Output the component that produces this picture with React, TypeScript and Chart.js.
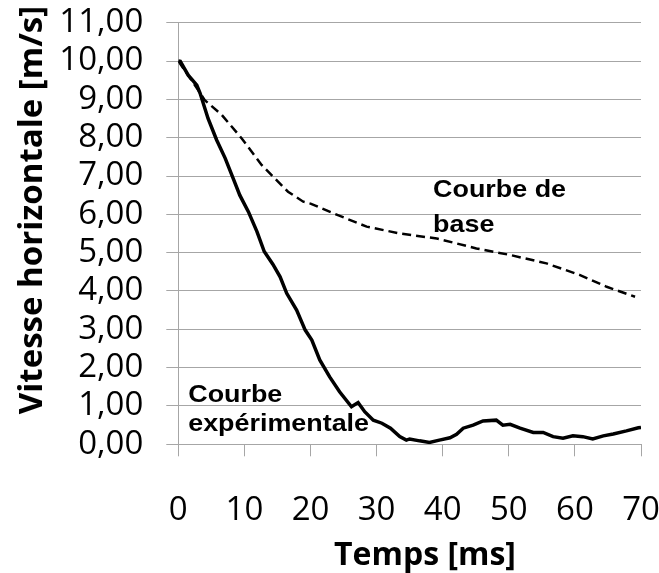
import React, { useEffect, useRef } from 'react';
import { Chart, registerables } from 'chart.js';

Chart.register(...registerables);

// Courbe de base (dashed)
const baseTime = [0, 2, 3, 4, 6.6, 9.6, 12.6, 16.6, 18.9, 20, 23.4, 28.5, 33.5, 39.1, 45.1, 50.2, 55.7, 60.7, 64.8, 69.1];
const baseSpeed = [10, 9.5, 9.24, 8.98, 8.59, 7.98, 7.29, 6.59, 6.33, 6.28, 6.03, 5.68, 5.5, 5.37, 5.11, 4.94, 4.72, 4.42, 4.11, 3.85];

// Courbe expérimentale (solid)
const expTime = [0, 0.3, 1.5, 2.8, 3.3, 4.5, 5.8, 7.1, 8.3, 9.3, 10.6, 11.9, 13.0, 14.3, 15.4, 16.4, 17.9, 19.2, 20.2, 21.4, 22.9, 24.4, 26.2, 27.2, 28.2, 29.5, 30.8, 32.1, 33.5, 34.5, 35.0, 36.5, 38.0, 39.5, 41.1, 42.1, 43.1, 44.6, 46.1, 48.1, 49.1, 50.2, 51.7, 53.7, 55.2, 56.7, 58.2, 59.7, 61.2, 62.7, 64.3, 65.8, 67.8, 69.6, 70];
const expSpeed = [10, 9.99, 9.63, 9.37, 9.16, 8.5, 7.94, 7.46, 6.94, 6.5, 6.07, 5.55, 5.03, 4.7, 4.37, 3.94, 3.5, 2.98, 2.72, 2.2, 1.76, 1.37, 0.98, 1.09, 0.85, 0.63, 0.55, 0.42, 0.2, 0.11, 0.14, 0.09, 0.05, 0.11, 0.17, 0.26, 0.42, 0.5, 0.61, 0.63, 0.5, 0.52, 0.42, 0.31, 0.31, 0.2, 0.16, 0.22, 0.2, 0.14, 0.22, 0.27, 0.35, 0.43, 0.44];

const xTitle = 'Temps [ms]';
const yTitle = 'Vitesse horizontale [m/s]';
const annotationTexts = ['Courbe de', 'base', 'Courbe', 'expérimentale'];
const annotationX = [38.55, 38.55, 1.5, 1.5];
const annotationY = [6.44, 5.55, 1.11, 0.35];

const textPlugin = {
  id: 'textPlugin',
  afterDraw(chart: any) {
    const { ctx } = chart;
    const xs = chart.scales.x;
    const ys = chart.scales.y;
    ctx.save();
    ctx.fillStyle = '#000';
    ctx.textBaseline = 'alphabetic';
    ctx.textAlign = 'left';
    ctx.font = 'bold 24px "Liberation Sans", Arial, sans-serif';
    annotationTexts.forEach((t, i) => {
      ctx.save();
      ctx.translate(xs.getPixelForValue(annotationX[i]), ys.getPixelForValue(annotationY[i]));
      ctx.scale(1.12, 1);
      ctx.fillText(t, 0, 0);
      ctx.restore();
    });
    ctx.textAlign = 'center';
    ctx.font = 'bold 33px "Open Sans", sans-serif';
    ctx.save();
    ctx.translate(41.5, 210);
    ctx.rotate(-Math.PI / 2);
    ctx.fillText(yTitle, 0, 0);
    ctx.restore();
    ctx.font = 'bold 32px "Open Sans", sans-serif';
    ctx.fillText(xTitle, 425, 565);
    ctx.restore();
  },
};

export default function App() {
  const ref = useRef<HTMLCanvasElement | null>(null);
  useEffect(() => {
    if (!ref.current) return;
    const gridColor = '#a6a6a6';
    const chart = new Chart(ref.current, {
      type: 'line',
      data: {
        datasets: [
          {
            label: 'Courbe de base',
            data: baseTime.map((t, i) => ({ x: t, y: baseSpeed[i] })),
            borderColor: '#000',
            borderWidth: 2.5,
            borderDash: [9, 5],
            pointRadius: 0,
            tension: 0,
            fill: false,
          },
          {
            label: 'Courbe expérimentale',
            data: expTime.map((t, i) => ({ x: t, y: expSpeed[i] })),
            borderColor: '#000',
            borderWidth: 3.5,
            pointRadius: 0,
            tension: 0,
            fill: false,
          },
        ],
      },
      options: {
        animation: false,
        responsive: false,
        maintainAspectRatio: false,
        layout: { padding: { top: 22.7, right: 18, left: 0, bottom: 0 } },
        plugins: { legend: { display: false }, tooltip: { enabled: false } },
        scales: {
          x: {
            type: 'linear',
            min: 0,
            max: 70,
            ticks: {
              stepSize: 10,
              color: '#000',
              padding: 34,
              autoSkip: false,
              font: { family: '"Open Sans", sans-serif', size: 33, lineHeight: 1.2 },
              maxRotation: 0,
            },
            grid: { drawOnChartArea: false, drawTicks: true, tickLength: 12, color: gridColor, lineWidth: 1 },
            border: { display: true, color: gridColor, width: 1 },
            afterFit: (s: any) => {
              s.height = 128.7;
              s.paddingLeft = 0;
              s.paddingRight = 0;
            },
          },
          y: {
            type: 'linear',
            min: 0,
            max: 11,
            ticks: {
              stepSize: 1,
              color: '#000',
              padding: 23,
              autoSkip: false,
              font: { family: '"Open Sans", sans-serif', size: 33, lineHeight: 1.0 },
              callback: (v: any) => Number(v).toFixed(2).replace('.', ','),
            },
            grid: { drawTicks: true, tickLength: 12, color: gridColor, lineWidth: 1 },
            border: { display: true, color: gridColor, width: 1 },
            afterFit: (s: any) => {
              s.width = 178.3;
              s.paddingTop = 0;
              s.paddingBottom = 0;
            },
          },
        },
      },
      plugins: [textPlugin],
    });
    return () => chart.destroy();
  }, []);
  return (
    <div style={{ position: 'fixed', left: 0, top: 0, width: 659, height: 573, background: '#fff' }}>
      <canvas ref={ref} width={659} height={573} style={{ display: 'block' }} />
    </div>
  );
}
